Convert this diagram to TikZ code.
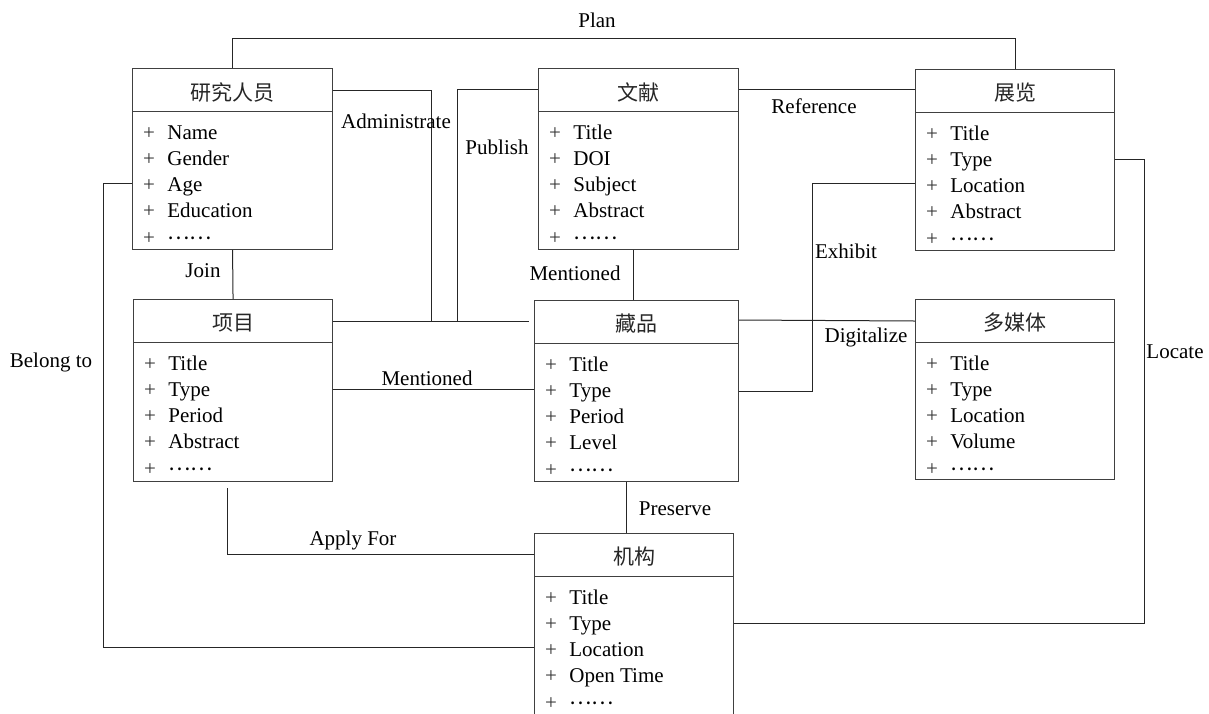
\documentclass[tikz,border=0pt]{standalone}
\usepackage{fontspec}
\setmainfont{Liberation Serif}
\newfontfamily\cjk{Noto Sans CJK SC}

% raised ellipsis, as in the attribute lists
\newcommand{\more}{\raisebox{2.4pt}{\cjk ……}}

% one class box: name, x, y, width, height (px), title, attributes
\newcommand{\umlclass}[7]{%
  \node[cls, minimum width=#4*0.5pt, minimum height=#5*0.5pt] (#1) at (#2,#3) {};
  \draw[rule] ([yshift=-21.75pt]#1.north west) -- ([yshift=-21.75pt]#1.north east);
  \node[ttl] (#1-title) at ([yshift=-12pt]#1.north) {#6};
  \foreach \a [count=\i] in {#7} {
    \pgfmathsetmacro{\rowy}{-35.5-13.15*(\i-1)}
    \node[plus] at ([xshift=8.5pt,yshift=\rowy pt]#1.north west) {+};
    \node[attr] (#1-\i) at ([xshift=17.5pt,yshift=\rowy pt]#1.north west) {\a};
  }%
}

\begin{document}
\begin{tikzpicture}[x=0.5pt, y=-0.5pt, font=\fontsize{10.5pt}{12pt}\selectfont,
    cls/.style={draw=black!75, line width=0.55pt, anchor=north west, inner sep=0pt},
    rule/.style={draw=black!75, line width=0.55pt},
    ttl/.style={font=\fontsize{10.5pt}{12pt}\cjk, inner sep=0pt, text=black!85},
    plus/.style={anchor=base, inner sep=0pt, text=black!80},
    attr/.style={anchor=base west, inner sep=0pt},
    link/.style={draw=black!85, line width=0.5pt},
    lbl/.style={inner sep=1pt}]
    \useasboundingbox (0,0) rectangle (1209,713);
    \clip (0,0) rectangle (1209,713);

    % classes
    \umlclass{res}{132}{68}{200}{181}{研究人员}{Name, Gender, Age, Education, \more}
    \umlclass{proj}{133}{299}{199}{182}{项目}{Title, Type, Period, Abstract, \more}
    \umlclass{lit}{538}{68}{200}{181}{文献}{Title, DOI, Subject, Abstract, \more}
    \umlclass{exh}{915}{69}{199}{181}{展览}{Title, Type, Location, Abstract, \more}
    \umlclass{col}{534}{300}{204}{181}{藏品}{Title, Type, Period, Level, \more}
    \umlclass{med}{915}{299}{199}{180}{多媒体}{Title, Type, Location, Volume, \more}
    \umlclass{org}{534}{533}{199}{200}{机构}{Title, Type, Location, Open Time, \more}

    % relations
    \coordinate (adm) at (431,321);
    \coordinate (pub) at (457,321);
    \draw[link] (res.north) -- ++(0,-30) -| (exh.north);
    \draw[link] ([yshift=-11pt]res.north east) -| (adm);
    \draw[link] ([yshift=-10.5pt]lit.north west) -| (pub);
    \draw[link] ([yshift=-11pt]proj.north east) -- ([yshift=-10.5pt,xshift=-2.5pt]col.north west);
    \draw[link] (res.south) -- (proj.north);
    \draw[link] ([yshift=-45pt]proj.north east) -- ([yshift=-44.5pt]col.north west);
    \draw[link] ([xshift=-2.5pt]lit.south) -- ([xshift=-1.5pt]col.north);
    \draw[link] ([yshift=-10.5pt]lit.north east) -- ([yshift=-10pt]exh.north west);
    \draw[link] ([yshift=-57pt]exh.north west) -| ([xshift=36.5pt,yshift=-45.5pt]col.north east) -- ([yshift=-45.5pt]col.north east);
    \draw[link] ([yshift=-10pt]col.north east) -- ([yshift=-11pt]med.north west);
    \draw[link] ([yshift=-45pt]exh.north east) -- ++(29,0) |- ([yshift=-45pt]org.north east);
    \draw[link] ([yshift=-57.5pt]res.north west) -- ++(-29,0) |- ([yshift=-57pt]org.north west);
    \draw[link] ([xshift=-5pt]col.south) -- ([xshift=-3.75pt]org.north);
    \draw[link] ([xshift=-3pt,yshift=-3pt]proj.south) |- ([yshift=-10.5pt]org.north west);

    % relation labels
    \node[lbl] (l-plan) at (597,20) {Plan};
    \node[lbl] (l-adm) at (396,121) {Administrate};
    \node[lbl] (l-pub) at (497,147) {Publish};
    \node[lbl] (l-ref) at (814,106) {Reference};
    \node[lbl] (l-join) at (203,271) {Join};
    \node[lbl] (l-men1) at (575,273) {Mentioned};
    \node[lbl] (l-exh) at (846,251) {Exhibit};
    \node[lbl] (l-dig) at (866,337) {Digitalize};
    \node[lbl] (l-loc) at (1175,352) {Locate};
    \node[lbl] (l-bel) at (51,362) {Belong to};
    \node[lbl] (l-men2) at (427,378) {Mentioned};
    \node[lbl] (l-pre) at (675,509) {Preserve};
    \node[lbl] (l-app) at (353,540) {Apply For};
\end{tikzpicture}
\end{document}
